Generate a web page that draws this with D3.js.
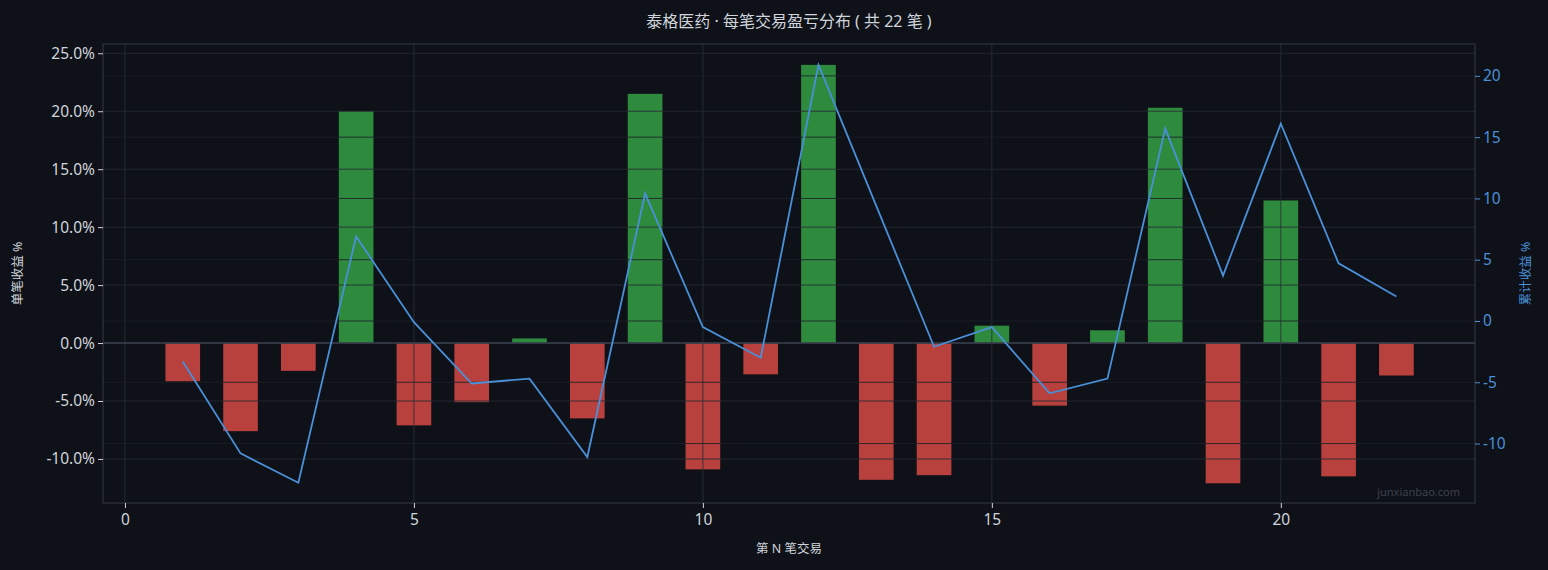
<!DOCTYPE html>
<html><head><meta charset="utf-8">
<script src="https://cdn.jsdelivr.net/npm/d3@7"></script>
<style>
body{margin:0;background:#0e1117;}
text{font-family:"Noto Sans","Noto Sans CJK SC",sans-serif;}
</style></head>
<body><div id="chart"></div>
<script>
const tradeNo = d3.range(1, 23);
const tradeReturns = [-3.3,-7.6,-2.4,20.0,-7.1,-5.1,0.4,-6.5,21.5,-10.9,-2.7,24.0,-11.8,-11.4,1.5,-5.4,1.1,20.3,-12.1,12.3,-11.5,-2.8];
const cumReturns = [-3.3,-10.8,-13.2,6.9,-0.1,-5.1,-4.7,-11.1,10.4,-0.5,-3.0,20.9,9.4,-2.1,-0.5,-5.9,-4.7,15.7,3.7,16.1,4.7,2.0];
const leftTicks = [-10,-5,0,5,10,15,20,25];
const rightTicks = [-10,-5,0,5,10,15,20];
const xTicks = [0,5,10,15,20];

const W = 1548, H = 570;
const m = {l:103, r:W-1475, t:44, b:H-503};
const svg = d3.select("#chart").append("svg").attr("width", W).attr("height", H);
svg.append("rect").attr("width", W).attr("height", H).attr("fill", "#0e1117");

const x = d3.scaleLinear().domain([-0.38, 23.36]).range([m.l, W-m.r]);
const y = d3.scaleLinear().domain([-13.8, 25.8]).range([H-m.b, m.t]);
const y2 = d3.scaleLinear().domain([-14.85, 22.6]).range([H-m.b, m.t]);

svg.append("g").selectAll("rect").data(tradeNo).enter().append("rect")
  .attr("x", d => x(d - 0.3))
  .attr("width", x(0.6) - x(0))
  .attr("y", (d, i) => y(Math.max(0, tradeReturns[i])))
  .attr("height", (d, i) => Math.abs(y(tradeReturns[i]) - y(0)))
  .attr("fill", (d, i) => tradeReturns[i] >= 0 ? "#2e8b3e" : "#b8403d");

// grid drawn over the bars, semi-transparent
const grid = svg.append("g").attr("stroke", "#1c2029").attr("stroke-opacity", 0.85).attr("stroke-width", 1);
xTicks.forEach(t => grid.append("line").attr("x1", x(t)).attr("x2", x(t)).attr("y1", m.t).attr("y2", H-m.b).attr("stroke", "#2a2f3a"));
leftTicks.forEach(t => grid.append("line").attr("x1", m.l).attr("x2", W-m.r).attr("y1", y(t)).attr("y2", y(t)).attr("stroke", "#262b35"));
rightTicks.forEach(t => grid.append("line").attr("x1", m.l).attr("x2", W-m.r).attr("y1", y2(t)).attr("y2", y2(t)));

svg.append("line").attr("x1", m.l).attr("x2", W-m.r).attr("y1", y(0)).attr("y2", y(0))
  .attr("stroke", "#3a404c").attr("stroke-width", 1.5);

svg.append("path").datum(tradeNo)
  .attr("fill", "none").attr("stroke", "#4a90d9").attr("stroke-width", 1.8)
  .attr("d", d3.line().x(d => x(d)).y((d, i) => y2(cumReturns[i])));

svg.append("rect").attr("x", m.l).attr("y", m.t).attr("width", W-m.r-m.l).attr("height", H-m.b-m.t)
  .attr("fill", "none").attr("stroke", "#333a46");

function style(g, col){
  g.select(".domain").remove();
  g.selectAll("line").attr("stroke", col);
  g.selectAll("text").attr("fill", col).attr("font-size", 15.5);
}
svg.append("g").attr("transform", `translate(0,${H-m.b})`)
  .call(d3.axisBottom(x).tickValues(xTicks).tickSize(5).tickPadding(6)).call(g => style(g, "#d0d4dc"));
svg.append("g").attr("transform", `translate(${m.l},0)`)
  .call(d3.axisLeft(y).tickValues(leftTicks).tickSize(5).tickFormat(d => d.toFixed(1) + "%")).call(g => style(g, "#d0d4dc"));
svg.append("g").attr("transform", `translate(${W-m.r},0)`)
  .call(d3.axisRight(y2).tickValues(rightTicks).tickSize(5).tickFormat(d => d)).call(g => style(g, "#4a90d9"));

svg.append("text").attr("x", (m.l + W - m.r)/2).attr("y", 27).attr("text-anchor", "middle")
  .attr("fill", "#d0d4dc").attr("font-size", 16).text("泰格医药 · 每笔交易盈亏分布 ( 共 22 笔 )");
svg.append("text").attr("x", (m.l + W - m.r)/2).attr("y", 553).attr("text-anchor", "middle")
  .attr("fill", "#d0d4dc").attr("font-size", 12.5).text("第 N 笔交易");
svg.append("text").attr("transform", `translate(22,${(m.t + H - m.b)/2}) rotate(-90)`).attr("text-anchor", "middle")
  .attr("fill", "#d0d4dc").attr("font-size", 12.5).text("单笔收益 %");
svg.append("text").attr("transform", `translate(1530,${(m.t + H - m.b)/2}) rotate(-90)`).attr("text-anchor", "middle")
  .attr("fill", "#4a90d9").attr("font-size", 12.5).text("累计收益 %");
svg.append("text").attr("x", 1460).attr("y", 496).attr("text-anchor", "end")
  .attr("fill", "#3c424d").attr("font-size", 11).text("junxianbao.com");
</script></body></html>
